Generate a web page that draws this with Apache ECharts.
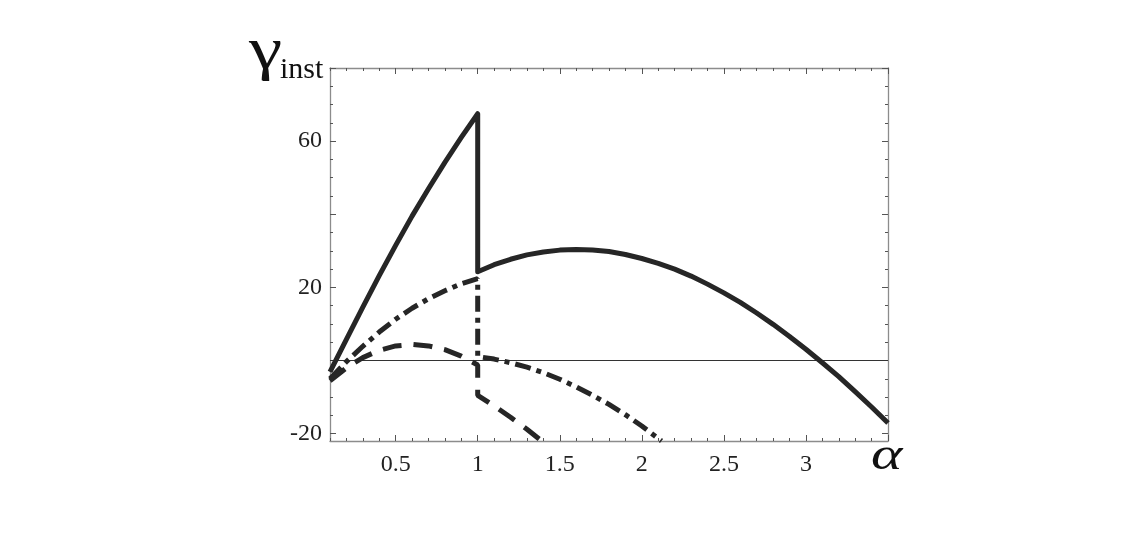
<!DOCTYPE html>
<html>
<head>
<meta charset="utf-8">
<script src="https://cdn.jsdelivr.net/npm/echarts@6/dist/echarts.min.js"></script>
<style>
  html, body { margin: 0; padding: 0; background: #ffffff; }
  #chart { width: 1144px; height: 554px; }
</style>
</head>
<body>
<div id="chart"></div>
<script>
// ---- data ----
const alphaLeft = [0.1, 0.2, 0.3, 0.4, 0.5, 0.6, 0.7, 0.8, 0.9, 1.0];
const solidLeft = [-3.1, 5.8, 14.6, 23.2, 31.5, 39.5, 47.0, 54.2, 61.0, 67.5];
const alphaSolidRight = [1.0, 1.1, 1.2, 1.3, 1.4, 1.5, 1.6, 1.7, 1.8, 1.9, 2.0, 2.1, 2.2, 2.3, 2.4, 2.5, 2.6, 2.7, 2.8, 2.9, 3.0, 3.1, 3.2, 3.3, 3.4, 3.5];
const solidRight = [24.3, 26.2, 27.7, 28.9, 29.7, 30.2, 30.4, 30.2, 29.8, 29.0, 27.9, 26.6, 25.0, 23.1, 20.9, 18.5, 15.9, 13.0, 9.9, 6.6, 3.1, -0.6, -4.4, -8.5, -12.7, -17.1];

const dotDashLeft = [-5.0, -0.3, 3.9, 7.8, 11.3, 14.3, 16.9, 19.1, 21.0, 22.4];
const alphaDotDashRight = [1.0, 1.1, 1.2, 1.3, 1.4, 1.5, 1.6, 1.7, 1.8, 1.9, 2.0, 2.1, 2.12];
const dotDashRight = [1.1, 0.4, -0.6, -1.8, -3.3, -5.1, -7.2, -9.5, -12.0, -14.8, -17.9, -21.3, -22.0];

const dashedLeft = [-5.5, -2.0, 0.8, 2.8, 4.0, 4.4, 4.0, 3.0, 1.2, -1.2];
const alphaDashedRight = [1.0, 1.1, 1.2, 1.3, 1.39];
const dashedRight = [-9.5, -12.4, -15.5, -18.8, -22.0];

const xLabels = [0.5, 1, 1.5, 2, 2.5, 3];
const yLabels = [-20, 20, 60];
const xMajorTicks = [0.5, 1, 1.5, 2, 2.5, 3, 3.5];
const yMajorTicks = [-20, 0, 20, 40, 60, 80];

// ---- helpers ----
function pairs(xs, ys) { return xs.map((x, i) => [x, ys[i]]); }
function seq(a, b, step) { const r = []; for (let v = a; v <= b + 1e-9; v += step) r.push(Math.round(v * 1000) / 1000); return r; }
const xMinorTicks = seq(0.1, 3.5, 0.1);
const yMinorTicks = seq(-20, 80, 5);

const X_MIN = 0.1, X_MAX = 3.5, Y_MIN = -22, Y_MAX = 80;
const FRAME = '#8c8c8c', TICK = '#555555', INK = '#262626';
const labelFont = { fontFamily: 'Liberation Serif', fontSize: 24, color: '#222222' };

function xAxisDef(pos, ticks, len, showLine, labels) {
  return {
    type: 'value', position: pos, min: X_MIN, max: X_MAX, gridIndex: 0,
    axisLine: { show: showLine, onZero: false, lineStyle: { color: FRAME, width: 1.3 } },
    axisTick: { show: true, inside: true, length: len, customValues: ticks, lineStyle: { color: TICK, width: 1 } },
    axisLabel: labels ? Object.assign({ show: true, customValues: labels, margin: 12 }, labelFont) : { show: false },
    splitLine: { show: false }
  };
}
function yAxisDef(pos, ticks, len, showLine, labels) {
  return {
    type: 'value', position: pos, min: Y_MIN, max: Y_MAX, gridIndex: 0,
    axisLine: { show: showLine, onZero: false, lineStyle: { color: FRAME, width: 1.3 } },
    axisTick: { show: true, inside: true, length: len, customValues: ticks, lineStyle: { color: TICK, width: 1 } },
    axisLabel: labels ? Object.assign({ show: true, customValues: labels, margin: 8 }, labelFont) : { show: false },
    splitLine: { show: false }
  };
}

const chart = echarts.init(document.getElementById('chart'), null, { renderer: 'canvas' });
chart.setOption({
  backgroundColor: '#ffffff',
  animation: false,
  grid: { left: 330, right: 256, top: 68, bottom: 113, containLabel: false },
  xAxis: [
    xAxisDef('bottom', xMinorTicks, 3, true, xLabels),
    xAxisDef('bottom', xMajorTicks, 6, false, null),
    xAxisDef('top', xMinorTicks, 3, true, null),
    xAxisDef('top', xMajorTicks, 6, false, null)
  ],
  yAxis: [
    yAxisDef('left', yMinorTicks, 3, true, yLabels),
    yAxisDef('left', yMajorTicks, 6, false, null),
    yAxisDef('right', yMinorTicks, 3, true, null),
    yAxisDef('right', yMajorTicks, 6, false, null)
  ],
  graphic: [
    { type: 'text', x: 249, y: 52, scaleX: 1.25, style: { text: 'γ', font: '60px "Liberation Serif"', fill: '#111', align: 'left', verticalAlign: 'middle' } },
    { type: 'text', x: 280, y: 70, style: { text: 'inst', font: '30px "Liberation Serif"', fill: '#111', align: 'left', verticalAlign: 'middle' } },
    { type: 'text', x: 871, y: 457, scaleX: 1.3, style: { text: 'α', font: 'italic 46px "Liberation Serif"', fill: '#111', align: 'left', verticalAlign: 'middle' } }
  ],
  series: [
    {
      name: 'solid', type: 'line', xAxisIndex: 0, yAxisIndex: 0, showSymbol: false, symbol: 'none',
      data: pairs(alphaLeft, solidLeft).concat(pairs(alphaSolidRight, solidRight)),
      lineStyle: { color: INK, width: 5, type: 'solid', join: 'round' },
      markLine: {
        silent: true, symbol: 'none', label: { show: false },
        lineStyle: { color: '#333333', width: 1, type: 'solid' },
        data: [{ yAxis: 0 }], z: 1
      },
      z: 3
    },
    {
      name: 'dotdash', type: 'line', xAxisIndex: 0, yAxisIndex: 0, showSymbol: false, symbol: 'none',
      data: pairs(alphaLeft, dotDashLeft).concat(pairs(alphaDotDashRight, dotDashRight)),
      lineStyle: { color: INK, width: 5, type: [16, 6, 5, 6], cap: 'butt' },
      z: 3
    },
    {
      name: 'dashed', type: 'line', xAxisIndex: 0, yAxisIndex: 0, showSymbol: false, symbol: 'none',
      data: pairs(alphaLeft, dashedLeft).concat(pairs(alphaDashedRight, dashedRight)),
      lineStyle: { color: INK, width: 5, type: [19, 12], cap: 'butt' },
      z: 3
    }
  ]
});
</script>
</body>
</html>
